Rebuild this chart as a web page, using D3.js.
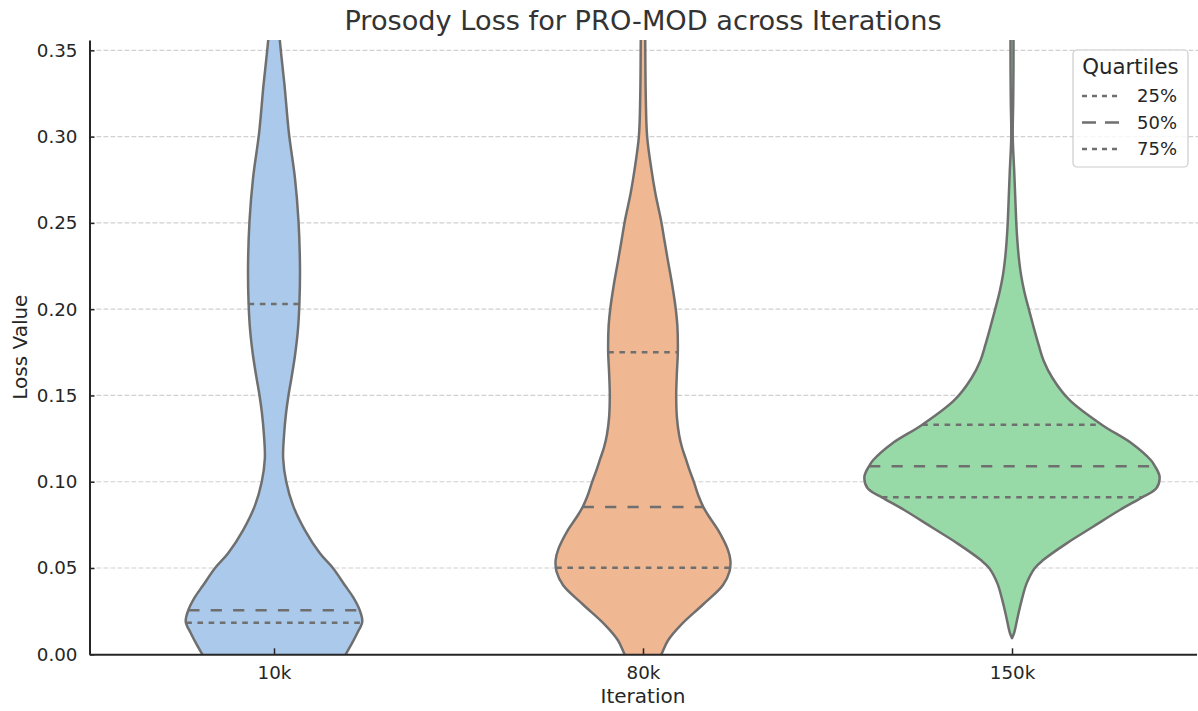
<!DOCTYPE html>
<html>
<head>
<meta charset="utf-8">
<script src="https://cdn.jsdelivr.net/npm/d3@7"></script>
<style>
  body { margin: 0; background: #ffffff; }
  svg { display: block; }
  text { font-family: "DejaVu Sans", sans-serif; }
</style>
</head>
<body>
<svg id="chart" width="1198" height="711"></svg>
<script>
// ---- data ----
const iterations = ["10k", "80k", "150k"];

// quartiles of the loss per iteration
const q25 = [0.0183, 0.0502, 0.0910];
const q50 = [0.0255, 0.0854, 0.1090];
const q75 = [0.2030, 0.1750, 0.1330];

// kernel density profiles: [loss value, relative density (widest violin = 1)]
const density10k = [
  [-0.006, 0.446], [0.000, 0.486], [0.006, 0.526], [0.0126, 0.566], [0.019, 0.598],
  [0.0257, 0.580], [0.033, 0.537], [0.040, 0.480], [0.050, 0.399],
  [0.0585, 0.311], [0.072, 0.209], [0.086, 0.130], [0.100, 0.083], [0.1135, 0.062],
  [0.127, 0.068], [0.140, 0.082], [0.150, 0.098], [0.160, 0.118], [0.173, 0.142],
  [0.188, 0.162], [0.203, 0.172], [0.224, 0.176], [0.251, 0.166], [0.276, 0.142],
  [0.302, 0.101], [0.330, 0.071], [0.350, 0.046], [0.370, 0.024]
];
const density80k = [
  [-0.006, 0.088], [0.000, 0.125], [0.008, 0.169], [0.0172, 0.259], [0.0287, 0.405],
  [0.040, 0.541], [0.048, 0.586], [0.0546, 0.592], [0.0608, 0.574], [0.0722, 0.507],
  [0.080, 0.446], [0.0853, 0.409], [0.092, 0.375], [0.0998, 0.345], [0.107, 0.314],
  [0.1135, 0.289], [0.120, 0.264], [0.127, 0.245], [0.137, 0.230], [0.150, 0.225],
  [0.162, 0.229], [0.1755, 0.236], [0.190, 0.233], [0.2007, 0.221], [0.215, 0.196],
  [0.228, 0.169], [0.240, 0.145], [0.2516, 0.122], [0.267, 0.084], [0.281, 0.057],
  [0.300, 0.028], [0.322, 0.019], [0.357, 0.015], [0.370, 0.014]
];
const density150k = [
  [0.0093, 0.000], [0.0122, 0.014], [0.0218, 0.039], [0.0315, 0.066], [0.0411, 0.099],
  [0.050, 0.155], [0.0546, 0.211], [0.0643, 0.370], [0.0739, 0.549], [0.0836, 0.730],
  [0.0908, 0.878], [0.0962, 0.978], [0.1029, 1.000], [0.1094, 0.966], [0.1126, 0.940],
  [0.1222, 0.812], [0.1329, 0.610], [0.1474, 0.389], [0.160, 0.275], [0.170, 0.215],
  [0.180, 0.178], [0.190, 0.145], [0.200, 0.114], [0.210, 0.084], [0.220, 0.061],
  [0.230, 0.046], [0.240, 0.036], [0.250, 0.029], [0.265, 0.022], [0.280, 0.015],
  [0.300, 0.005], [0.320, 0.008], [0.340, 0.010], [0.370, 0.010]
];
const densities = [density10k, density80k, density150k];

const yTicks = [0.00, 0.05, 0.10, 0.15, 0.20, 0.25, 0.30, 0.35];
const yMax = 0.356;
const legendLabels = ["25%", "50%", "75%"];

const fills = ["#abc9ea", "#efb792", "#98daa7"];
const edge = "#6f6f6f";
const dotted = "5.6,5.6";
const dashed = "11.2,11.2";

// ---- layout ----
const svg = d3.select("#chart");
const plot = { left: 89.5, right: 1196.5, top: 40, bottom: 654.3 };

const x = d3.scalePoint().domain(iterations).range([plot.left, plot.right]).padding(0.5);
const y = d3.scaleLinear().domain([0, yMax]).range([plot.bottom, plot.top]);
const halfWidth = d3.scaleLinear().domain([0, 1]).range([0, x.step() * 0.4]);

svg.append("defs").append("clipPath").attr("id", "plot-clip")
  .append("rect")
  .attr("x", plot.left).attr("y", plot.top)
  .attr("width", plot.right - plot.left).attr("height", plot.bottom - plot.top);

// horizontal grid
svg.append("g")
  .selectAll("line")
  .data(yTicks.filter(t => t > 0))
  .join("line")
  .attr("x1", plot.left).attr("x2", 1198)
  .attr("y1", d => y(d)).attr("y2", d => y(d))
  .attr("stroke", "#d0d0d0")
  .attr("stroke-width", 1.2)
  .attr("stroke-dasharray", "4.8,2.2");

// violins
const violins = svg.append("g").attr("clip-path", "url(#plot-clip)");

function densityAt(profile, v) {
  for (let i = 1; i < profile.length; i++) {
    const [v0, d0] = profile[i - 1], [v1, d1] = profile[i];
    if (v >= v0 && v <= v1) return d0 + (d1 - d0) * (v - v0) / (v1 - v0);
  }
  return 0;
}

iterations.forEach((it, i) => {
  const cx = x(it);
  const area = d3.area()
    .y(d => y(d[0]))
    .x0(d => cx - halfWidth(d[1]))
    .x1(d => cx + halfWidth(d[1]))
    .curve(d3.curveCatmullRom.alpha(0.5));

  violins.append("path")
    .datum(densities[i])
    .attr("d", area)
    .attr("fill", fills[i])
    .attr("stroke", edge)
    .attr("stroke-width", 2.5)
    .attr("stroke-linejoin", "round");

  const quartiles = [[q25[i], dotted], [q50[i], dashed], [q75[i], dotted]];
  quartiles.forEach(([q, dash]) => {
    const w = halfWidth(densityAt(densities[i], q));
    violins.append("line")
      .attr("x1", cx - w).attr("x2", cx + w)
      .attr("y1", y(q)).attr("y2", y(q))
      .attr("stroke", edge)
      .attr("stroke-width", 2.5)
      .attr("stroke-dasharray", dash);
  });
});

// axes
const yAxis = d3.axisLeft(y).tickValues(yTicks).tickFormat(d3.format(".2f"))
  .tickSizeInner(-5).tickSizeOuter(0).tickPadding(12);
const gy = svg.append("g").attr("transform", `translate(${plot.left},0)`).call(yAxis);

const xAxis = d3.axisBottom(x).tickSizeInner(-6).tickSizeOuter(0).tickPadding(12);
const gx = svg.append("g").attr("transform", `translate(0,${plot.bottom})`).call(xAxis);

[gx, gy].forEach(g => {
  g.select(".domain").attr("stroke", "#262626").attr("stroke-width", 2);
  g.selectAll(".tick line").attr("stroke", "#262626").attr("stroke-width", 1.5);
  g.selectAll(".tick text").attr("fill", "#262626").style("font-size", "18.3px");
});

// titles
svg.append("text")
  .attr("x", (plot.left + plot.right) / 2).attr("y", 30)
  .attr("text-anchor", "middle")
  .attr("fill", "#333333")
  .style("font-size", "27.2px")
  .text("Prosody Loss for PRO-MOD across Iterations");

svg.append("text")
  .attr("x", (plot.left + plot.right) / 2).attr("y", 703)
  .attr("text-anchor", "middle")
  .attr("fill", "#262626")
  .style("font-size", "20px")
  .text("Iteration");

svg.append("text")
  .attr("transform", `translate(27,${(plot.top + plot.bottom) / 2}) rotate(-90)`)
  .attr("text-anchor", "middle")
  .attr("fill", "#262626")
  .style("font-size", "20px")
  .text("Loss Value");

// legend
const legend = svg.append("g").attr("transform", "translate(1073,50)");
legend.append("rect")
  .attr("width", 115).attr("height", 117).attr("rx", 4)
  .attr("fill", "#ffffff").attr("fill-opacity", 0.8)
  .attr("stroke", "#cccccc").attr("stroke-width", 1.2);
legend.append("text")
  .attr("x", 57.5).attr("y", 24)
  .attr("text-anchor", "middle")
  .attr("fill", "#262626")
  .style("font-size", "21.3px")
  .text("Quartiles");
legendLabels.forEach((lab, i) => {
  const cy = 46 + i * 26.5;
  legend.append("line")
    .attr("x1", 9).attr("x2", 48).attr("y1", cy).attr("y2", cy)
    .attr("stroke", edge).attr("stroke-width", 2.5)
    .attr("stroke-dasharray", i === 1 ? "14,9" : "5,5");
  legend.append("text")
    .attr("x", 64).attr("y", cy + 6)
    .attr("fill", "#262626")
    .style("font-size", "18px")
    .text(lab);
});
</script>
</body>
</html>
